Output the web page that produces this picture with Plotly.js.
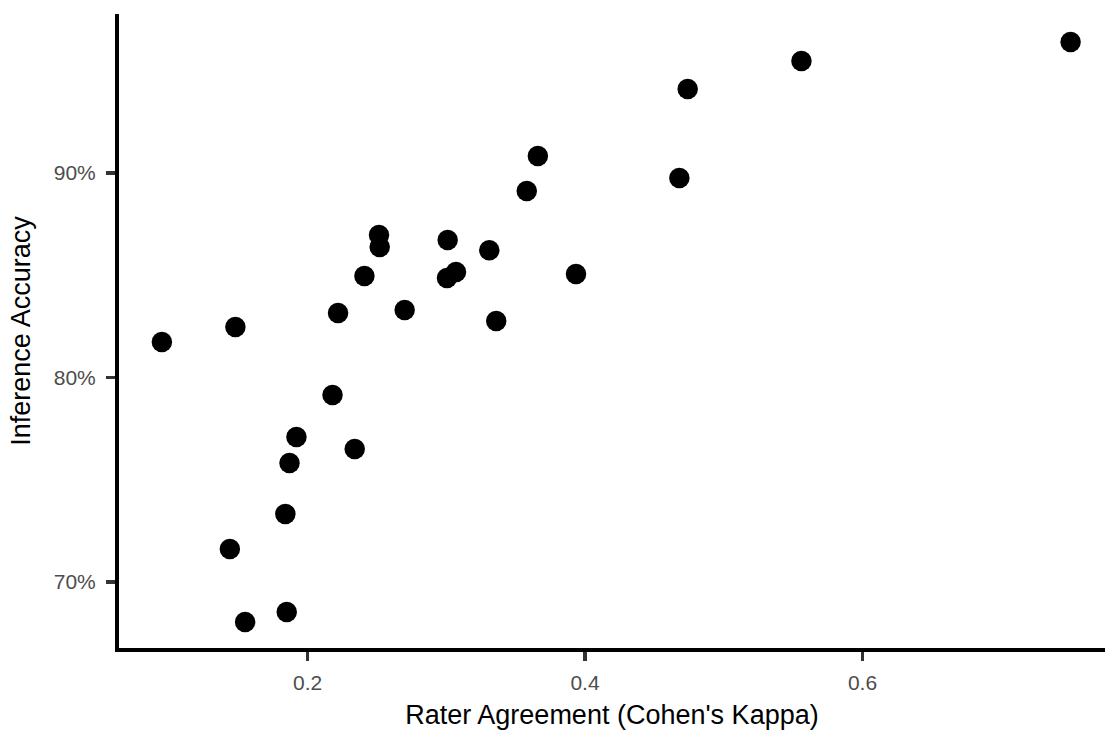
<!DOCTYPE html>
<html>
<head>
<meta charset="utf-8">
<script src="https://cdn.plot.ly/plotly-3.0.1.min.js"></script>
<style>html,body{margin:0;padding:0;background:#fff;}#chart{width:1106px;height:734px;}</style>
</head>
<body>
<div id="chart"></div>
<script>
// Rater agreement (Cohen's kappa) per item
var kappa = [0.750, 0.556, 0.474, 0.366, 0.468, 0.358, 0.2515, 0.301, 0.252, 0.331,
             0.241, 0.307, 0.3005, 0.3935, 0.222, 0.270, 0.336, 0.148, 0.095, 0.218,
             0.192, 0.234, 0.187, 0.184, 0.144, 0.185, 0.155];
// Inference accuracy per item (fraction)
var accuracy = [0.9641, 0.9548, 0.9411, 0.9083, 0.8976, 0.8912, 0.8697, 0.8672, 0.8638, 0.8623,
                0.8496, 0.8516, 0.8487, 0.8506, 0.8315, 0.8330, 0.8276, 0.8247, 0.8174, 0.7914,
                0.7709, 0.7650, 0.7582, 0.7333, 0.7161, 0.6853, 0.6804];
var xTicks = [0.2, 0.4, 0.6];
var yTicks = [0.7, 0.8, 0.9];
var yTickLabels = ['70%', '80%', '90%'];

var trace = {
  x: kappa, y: accuracy, type: 'scatter', mode: 'markers',
  marker: {color: '#000000', size: 20.5, line: {width: 0}},
  hoverinfo: 'x+y', cliponaxis: false
};

var fontFam = '"Liberation Sans", Arial, Helvetica, sans-serif';
var layout = {
  width: 1106, height: 734,
  margin: {l: 119, r: 1, t: 14, b: 86},
  paper_bgcolor: '#ffffff', plot_bgcolor: '#ffffff',
  showlegend: false,
  font: {family: fontFam},
  xaxis: {
    range: [0.0641, 0.7748],
    tickvals: xTicks, ticktext: xTicks.map(function(v){return v.toFixed(1);}),
    showgrid: false, zeroline: false,
    showline: true, linecolor: '#000000', linewidth: 4,
    ticks: 'outside', ticklen: 9, tickwidth: 3.5, tickcolor: '#333333',
    tickfont: {size: 21, color: '#4d4d4d', family: fontFam},
    ticklabelstandoff: 4,
    title: {text: 'Rater Agreement (Cohen\'s Kappa)', font: {size: 27, color: '#000000', family: fontFam}, standoff: 13}
  },
  yaxis: {
    range: [0.6677, 0.9778],
    tickvals: yTicks, ticktext: yTickLabels,
    showgrid: false, zeroline: false,
    showline: true, linecolor: '#000000', linewidth: 4,
    ticks: 'outside', ticklen: 9, tickwidth: 3.5, tickcolor: '#333333',
    tickfont: {size: 21, color: '#4d4d4d', family: fontFam},
    ticklabelstandoff: 6,
    title: {text: 'Inference Accuracy', font: {size: 27, color: '#000000', family: fontFam}, standoff: 16}
  }
};

Plotly.newPlot('chart', [trace], layout, {displayModeBar: false, staticPlot: true});
</script>
</body>
</html>
